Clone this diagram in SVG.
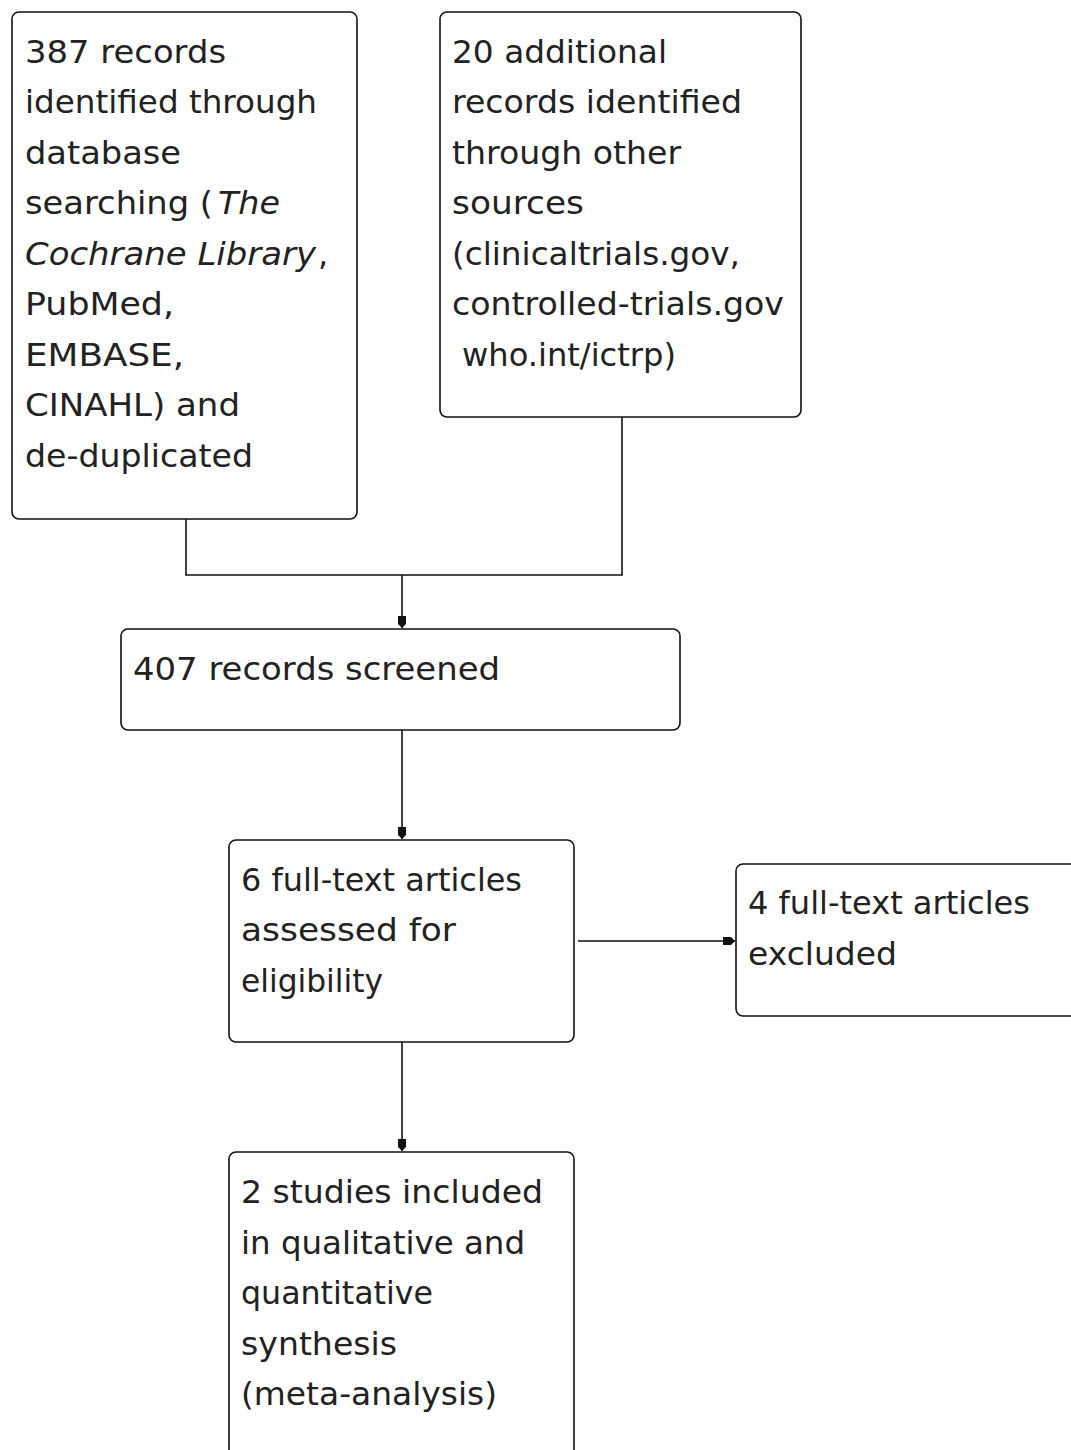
<svg xmlns="http://www.w3.org/2000/svg" width="1071" height="1450" viewBox="0 0 1071 1450">
<style>
.box{fill:#fff;stroke:#111;stroke-width:1.6}
.t{font-family:"DejaVu Sans",sans-serif;font-size:32px;fill:#222}
.c{fill:none;stroke:#111;stroke-width:1.6}
</style>
<defs>
<marker id="ah" viewBox="0 0 12 10" refX="12" refY="5" markerWidth="12" markerHeight="10" markerUnits="userSpaceOnUse" orient="auto">
<path d="M0,1 L8,1 L12,5 L8,9 L0,9 Z" fill="#111"/>
</marker>
</defs>
<rect width="1071" height="1450" fill="#fff"/>
<g id="connectors">
<path class="c" d="M186,519 V575 H622 V417"/>
<path class="c" d="M402,575 V628" marker-end="url(#ah)"/>
<path class="c" d="M402,730 V839" marker-end="url(#ah)"/>
<path class="c" d="M578,941 H735" marker-end="url(#ah)"/>
<path class="c" d="M402,1042 V1151" marker-end="url(#ah)"/>
</g>
<g id="n1">
<rect class="box" x="12" y="12" width="345" height="507" rx="7"/>
<text class="t" lengthAdjust="spacingAndGlyphs">
<tspan x="25" y="63" textLength="201" lengthAdjust="spacingAndGlyphs">387 records</tspan>
<tspan x="25" y="113" textLength="292" lengthAdjust="spacingAndGlyphs">identified through</tspan>
<tspan x="25" y="164" textLength="156" lengthAdjust="spacingAndGlyphs">database</tspan>
<tspan x="25" y="214" textLength="188" lengthAdjust="spacingAndGlyphs">searching (</tspan>
<tspan x="218" y="214" font-style="italic" textLength="62" lengthAdjust="spacingAndGlyphs">The</tspan>
<tspan x="25" y="265" font-style="italic" textLength="291" lengthAdjust="spacingAndGlyphs">Cochrane Library</tspan>
<tspan x="318" y="265">,</tspan>
<tspan x="25" y="315" textLength="149" lengthAdjust="spacingAndGlyphs">PubMed,</tspan>
<tspan x="25" y="366" textLength="159" lengthAdjust="spacingAndGlyphs">EMBASE,</tspan>
<tspan x="25" y="416" textLength="215" lengthAdjust="spacingAndGlyphs">CINAHL) and</tspan>
<tspan x="25" y="467" textLength="228" lengthAdjust="spacingAndGlyphs">de-duplicated</tspan>
</text>
</g>
<g id="n2">
<rect class="box" x="440" y="12" width="361" height="405" rx="7"/>
<text class="t">
<tspan x="452" y="63" textLength="215" lengthAdjust="spacingAndGlyphs">20 additional</tspan>
<tspan x="452" y="113" textLength="290" lengthAdjust="spacingAndGlyphs">records identified</tspan>
<tspan x="452" y="164" textLength="229" lengthAdjust="spacingAndGlyphs">through other</tspan>
<tspan x="452" y="214" textLength="132" lengthAdjust="spacingAndGlyphs">sources</tspan>
<tspan x="452" y="265" textLength="288" lengthAdjust="spacingAndGlyphs">(clinicaltrials.gov,</tspan>
<tspan x="452" y="315" textLength="332" lengthAdjust="spacingAndGlyphs">controlled-trials.gov</tspan>
<tspan x="462" y="366" textLength="214" lengthAdjust="spacingAndGlyphs">who.int/ictrp)</tspan>
</text>
</g>
<g id="n3">
<rect class="box" x="121" y="629" width="559" height="101" rx="7"/>
<text class="t" x="133" y="680" textLength="367" lengthAdjust="spacingAndGlyphs">407 records screened</text>
</g>
<g id="n4">
<rect class="box" x="229" y="840" width="345" height="202" rx="7"/>
<text class="t">
<tspan x="241" y="891" textLength="281" lengthAdjust="spacingAndGlyphs">6 full-text articles</tspan>
<tspan x="241" y="941" textLength="215" lengthAdjust="spacingAndGlyphs">assessed for</tspan>
<tspan x="241" y="992" textLength="142" lengthAdjust="spacingAndGlyphs">eligibility</tspan>
</text>
</g>
<g id="n5">
<rect class="box" x="736" y="864" width="350" height="152" rx="7"/>
<text class="t">
<tspan x="748" y="914" textLength="282" lengthAdjust="spacingAndGlyphs">4 full-text articles</tspan>
<tspan x="748" y="965" textLength="149" lengthAdjust="spacingAndGlyphs">excluded</tspan>
</text>
</g>
<g id="n6">
<rect class="box" x="229" y="1152" width="345" height="320" rx="7"/>
<text class="t">
<tspan x="241" y="1203" textLength="302" lengthAdjust="spacingAndGlyphs">2 studies included</tspan>
<tspan x="241" y="1254" textLength="284" lengthAdjust="spacingAndGlyphs">in qualitative and</tspan>
<tspan x="241" y="1304" textLength="192" lengthAdjust="spacingAndGlyphs">quantitative</tspan>
<tspan x="241" y="1355" textLength="156" lengthAdjust="spacingAndGlyphs">synthesis</tspan>
<tspan x="241" y="1405" textLength="256" lengthAdjust="spacingAndGlyphs">(meta-analysis)</tspan>
</text>
</g>
</svg>
